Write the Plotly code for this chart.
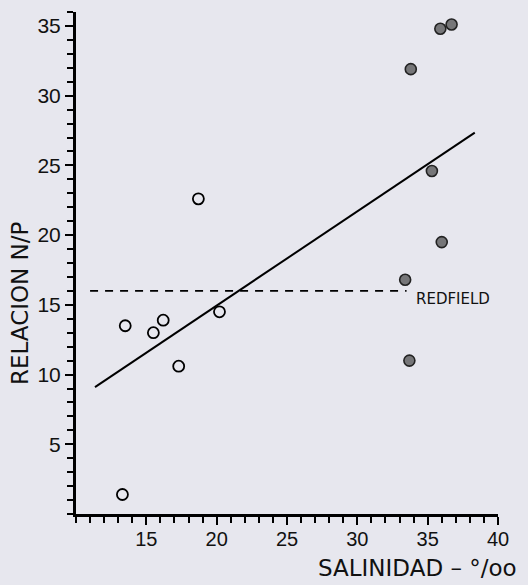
import plotly.graph_objects as go

# Open circles (low salinity)
open_x = [18.7, 13.5, 15.5, 16.2, 17.3, 20.2, 13.3]
open_y = [22.6, 13.5, 13.0, 13.9, 10.6, 14.5, 1.4]

# Filled circles (high salinity)
fill_x = [35.9, 36.7, 33.8, 35.3, 36.0, 33.4, 33.7]
fill_y = [34.8, 35.1, 31.9, 24.6, 19.5, 16.8, 11.0]

# Regression line (end points)
reg_x = [11.35, 38.35]
reg_y = [9.1, 27.35]

# Redfield ratio line
red_x = [11.0, 33.5]
red_y = [16.0, 16.0]

x_ticks = [15, 20, 25, 30, 35, 40]
y_ticks = [5, 10, 15, 20, 25, 30, 35]

BG = "#e7e7ee"
FONT = "Liberation Sans Narrow, Liberation Sans, Arial, sans-serif"
TFONT = "DejaVu Sans, sans-serif"

fig = go.Figure()
fig.add_trace(go.Scatter(x=red_x, y=red_y, mode="lines",
                         line=dict(color="black", width=1.6, dash="8px,7px"),
                         showlegend=False, hoverinfo="skip"))
fig.add_trace(go.Scatter(x=reg_x, y=reg_y, mode="lines",
                         line=dict(color="black", width=2),
                         showlegend=False))
fig.add_trace(go.Scatter(x=open_x, y=open_y, mode="markers",
                         marker=dict(size=11, color=BG, line=dict(color="black", width=1.8)),
                         showlegend=False, cliponaxis=False))
fig.add_trace(go.Scatter(x=fill_x, y=fill_y, mode="markers",
                         marker=dict(size=11, color="#767678", line=dict(color="#222", width=1.6)),
                         showlegend=False, cliponaxis=False))

fig.add_annotation(x=34.0, y=15.4, xref="x", yref="y", text="REDFIELD",
                   showarrow=False, xanchor="left", yanchor="middle",
                   font=dict(family=TFONT, size=15, color="#111"))
fig.add_annotation(x=1.05, y=-0.137, xref="paper", yref="paper",
                   text="SALINIDAD – °/oo",
                   showarrow=False, xanchor="right", yanchor="bottom",
                   font=dict(family=TFONT, size=23, color="#111"))
fig.add_annotation(x=-0.133, y=0.42, xref="paper", yref="paper", text="RELACION N/P",
                   showarrow=False, textangle=-90, xanchor="center", yanchor="middle",
                   font=dict(family=TFONT, size=23, color="#111"))

fig.update_layout(
    width=528, height=585,
    margin=dict(l=76, r=30, t=12, b=71),
    paper_bgcolor=BG, plot_bgcolor=BG,
    font=dict(family=FONT, color="#111"),
    showlegend=False,
)

fig.update_xaxes(range=[10, 40], tickmode="array", tickvals=x_ticks,
                 showline=True, linecolor="black", linewidth=2.5, mirror=False,
                 ticks="outside", ticklen=8, tickwidth=2, tickcolor="black",
                 minor=dict(tickmode="linear", tick0=10, dtick=1, ticks="outside",
                            ticklen=6, tickwidth=1.5, tickcolor="black", showgrid=False),
                 showgrid=False, zeroline=False, ticklabelstandoff=-3,
                 tickfont=dict(family=FONT, size=20, color="#111"))
fig.update_yaxes(range=[0, 36], tickmode="array", tickvals=y_ticks,
                 showline=True, linecolor="black", linewidth=3, mirror=False,
                 ticks="outside", ticklen=8, tickwidth=2, tickcolor="black",
                 minor=dict(tickmode="linear", tick0=0, dtick=1, ticks="outside",
                            ticklen=6, tickwidth=1.5, tickcolor="black", showgrid=False),
                 showgrid=False, zeroline=False,
                 tickfont=dict(family=FONT, size=21, color="#111"))

fig.write_html("out.html", config={"displayModeBar": False},
               post_script="document.body.style.margin='0';document.body.style.overflow='hidden';"
                           "document.body.style.background='" + BG + "';")
